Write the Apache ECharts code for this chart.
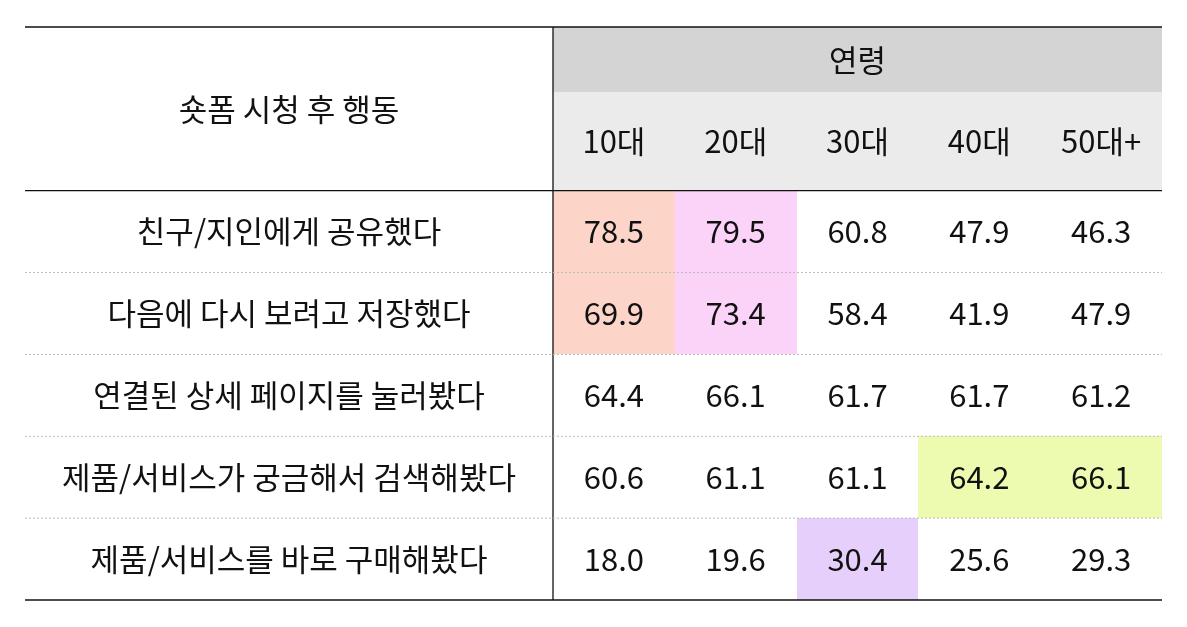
<!DOCTYPE html>
<html><head><meta charset="utf-8">
<script src="https://cdn.jsdelivr.net/npm/echarts@6/dist/echarts.min.js"></script>
<style>html,body{margin:0;background:#fff}#c{width:1187px;height:627px}</style>
</head><body><div id="c"></div>
<script>
const title = '숏폼 시청 후 행동';
const groupTitle = '연령';
const ages = ['10대','20대','30대','40대','50대+'];
const actions = ['친구/지인에게 공유했다','다음에 다시 보려고 저장했다','연결된 상세 페이지를 눌러봤다','제품/서비스가 궁금해서 검색해봤다','제품/서비스를 바로 구매해봤다'];
const values = [
  [78.5,79.5,60.8,47.9,46.3],
  [69.9,73.4,58.4,41.9,47.9],
  [64.4,66.1,61.7,61.7,61.2],
  [60.6,61.1,61.1,64.2,66.1],
  [18.0,19.6,30.4,25.6,29.3]
];
const highlights = [
  ['a','b','','',''],
  ['a','b','','',''],
  ['','','','',''],
  ['','','','c','c'],
  ['','','d','','']
];
const hlColors = {a:'#fdd5c8', b:'#fbd3f9', c:'#ecfbb0', d:'#e6d0fb'};

const LW = 528/121.8;
const font = '"Noto Sans CJK KR","Noto Sans",sans-serif';
const cells = [];
cells.push({value:[LW,0.8,5,1.2], t:'', fill:'#ebebeb'});
cells.push({value:[LW,0,5,0.8], t:groupTitle, fill:'#d4d4d4'});
cells.push({value:[0,0,LW,2], t:title, fill:null});
ages.forEach((a,i)=>cells.push({value:[LW+i,0.8,1,1.2], t:a, fill:null}));
actions.forEach((a,r)=>{
  cells.push({value:[0,2+r,LW,1], t:a, fill:null});
  values[r].forEach((v,c)=>{
    const h = highlights[r][c];
    cells.push({value:[LW+c,2+r,1,1], t:v.toFixed(1), fill:h?hlColors[h]:null});
  });
});

const chart = echarts.init(document.getElementById('c'));
chart.setOption({
  animation:false,
  grid:{left:25,right:25,top:27,bottom:27},
  xAxis:{type:'value',min:0,max:LW+5,show:false},
  yAxis:{type:'value',min:0,max:7,inverse:true,show:false},
  series:[{
    type:'custom',
    data:cells,
    renderItem:(params,api)=>{
      const d = cells[params.dataIndex];
      const [x,y,w,h] = d.value;
      const p0 = api.coord([x,y]), p1 = api.coord([x+w,y+h]);
      const ch = [];
      if(d.fill) ch.push({type:'rect',shape:{x:Math.round(p0[0]),y:Math.round(p0[1]),width:Math.round(p1[0])-Math.round(p0[0]),height:Math.round(p1[1])-Math.round(p0[1])},style:{fill:d.fill}});
      if(d.t) ch.push({type:'text',style:{text:d.t,x:(p0[0]+p1[0])/2,y:(p0[1]+p1[1])/2,align:'center',verticalAlign:'middle',fill:'#111',font:'31px '+font}});
      return {type:'group',children:ch};
    }
  },{
    type:'custom',
    data:[0],
    z:5,
    renderItem:(params,api)=>{
      const L = api.coord([0,0]), R = api.coord([LW+5,7]), M = api.coord([LW,2]);
      const ch = [];
      const line=(x1,y1,x2,y2,st)=>ch.push({type:'line',shape:{x1,y1,x2,y2},style:Object.assign({stroke:'#111',lineWidth:1.3},st||{})});
      line(L[0],L[1],R[0],L[1]);
      line(L[0],R[1],R[0],R[1]);
      line(L[0],M[1],R[0],M[1]);
      line(M[0],L[1],M[0],R[1]);
      for(let r=1;r<5;r++){const yy=api.coord([0,2+r])[1];line(L[0],yy,R[0],yy,{stroke:'#bbb',lineWidth:1,lineDash:[2,2]});}
      return {type:'group',children:ch};
    }
  }]
});
</script></body></html>
